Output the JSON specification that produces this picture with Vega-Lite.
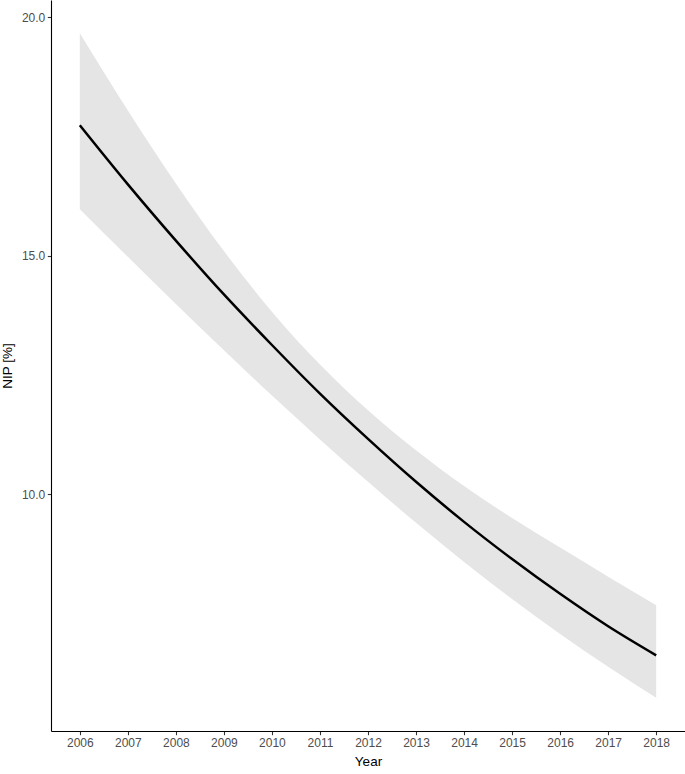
{
  "$schema": "https://vega.github.io/schema/vega-lite/v6.json",
  "autosize": "none",
  "padding": {"left": 51, "top": 0, "right": 1, "bottom": 43},
  "width": 634,
  "height": 731,
  "background": "white",
  "config": {
    "view": {"stroke": null},
    "font": "Liberation Sans",
    "axis": {
      "grid": false,
      "domainColor": "#000000",
      "domainWidth": 1.1,
      "tickColor": "#333333",
      "tickWidth": 1.1,
      "tickSize": 3.7,
      "labelColor": "#4D4D4D",
      "labelFontSize": 12,
      "labelFont": "Liberation Sans",
      "titleFont": "Liberation Sans",
      "titleFontSize": 13.5,
      "titleFontWeight": "normal",
      "titleColor": "#000000",
      "labelPadding": 2.5
    }
  },
  "data": {
    "values": [
      {"Year": 2006, "fit": 17.74, "lower": 15.98, "upper": 19.67},
      {"Year": 2007, "fit": 16.50, "lower": 14.98, "upper": 18.05},
      {"Year": 2008, "fit": 15.32, "lower": 13.99, "upper": 16.52},
      {"Year": 2009, "fit": 14.19, "lower": 13.02, "upper": 15.10},
      {"Year": 2010, "fit": 13.13, "lower": 12.07, "upper": 13.83},
      {"Year": 2011, "fit": 12.11, "lower": 11.15, "upper": 12.72},
      {"Year": 2012, "fit": 11.16, "lower": 10.26, "upper": 11.76},
      {"Year": 2013, "fit": 10.26, "lower": 9.40, "upper": 10.92},
      {"Year": 2014, "fit": 9.42, "lower": 8.58, "upper": 10.17},
      {"Year": 2015, "fit": 8.64, "lower": 7.80, "upper": 9.50},
      {"Year": 2016, "fit": 7.91, "lower": 7.07, "upper": 8.88},
      {"Year": 2017, "fit": 7.23, "lower": 6.38, "upper": 8.27},
      {"Year": 2018, "fit": 6.62, "lower": 5.73, "upper": 7.67}
    ]
  },
  "encoding": {
    "x": {
      "field": "Year",
      "type": "quantitative",
      "scale": {"domain": [2005.4, 2018.6], "nice": false, "zero": false},
      "axis": {
        "values": [2006, 2007, 2008, 2009, 2010, 2011, 2012, 2013, 2014, 2015, 2016, 2017, 2018],
        "format": "d",
        "title": "Year",
        "titlePadding": 6
      }
    }
  },
  "layer": [
    {
      "mark": {"type": "area", "color": "#E5E5E5", "opacity": 1, "interpolate": "monotone"},
      "encoding": {
        "y": {
          "field": "lower",
          "type": "quantitative",
          "scale": {"domain": [5.033, 20.367], "nice": false, "zero": false},
          "axis": {
            "values": [10, 15, 20],
            "format": ".1f",
            "title": "NIP [%]",
            "titlePadding": 7
          }
        },
        "y2": {"field": "upper"}
      }
    },
    {
      "mark": {"type": "line", "color": "#000000", "strokeWidth": 2.5, "interpolate": "monotone"},
      "encoding": {
        "y": {"field": "fit", "type": "quantitative"}
      }
    }
  ]
}
